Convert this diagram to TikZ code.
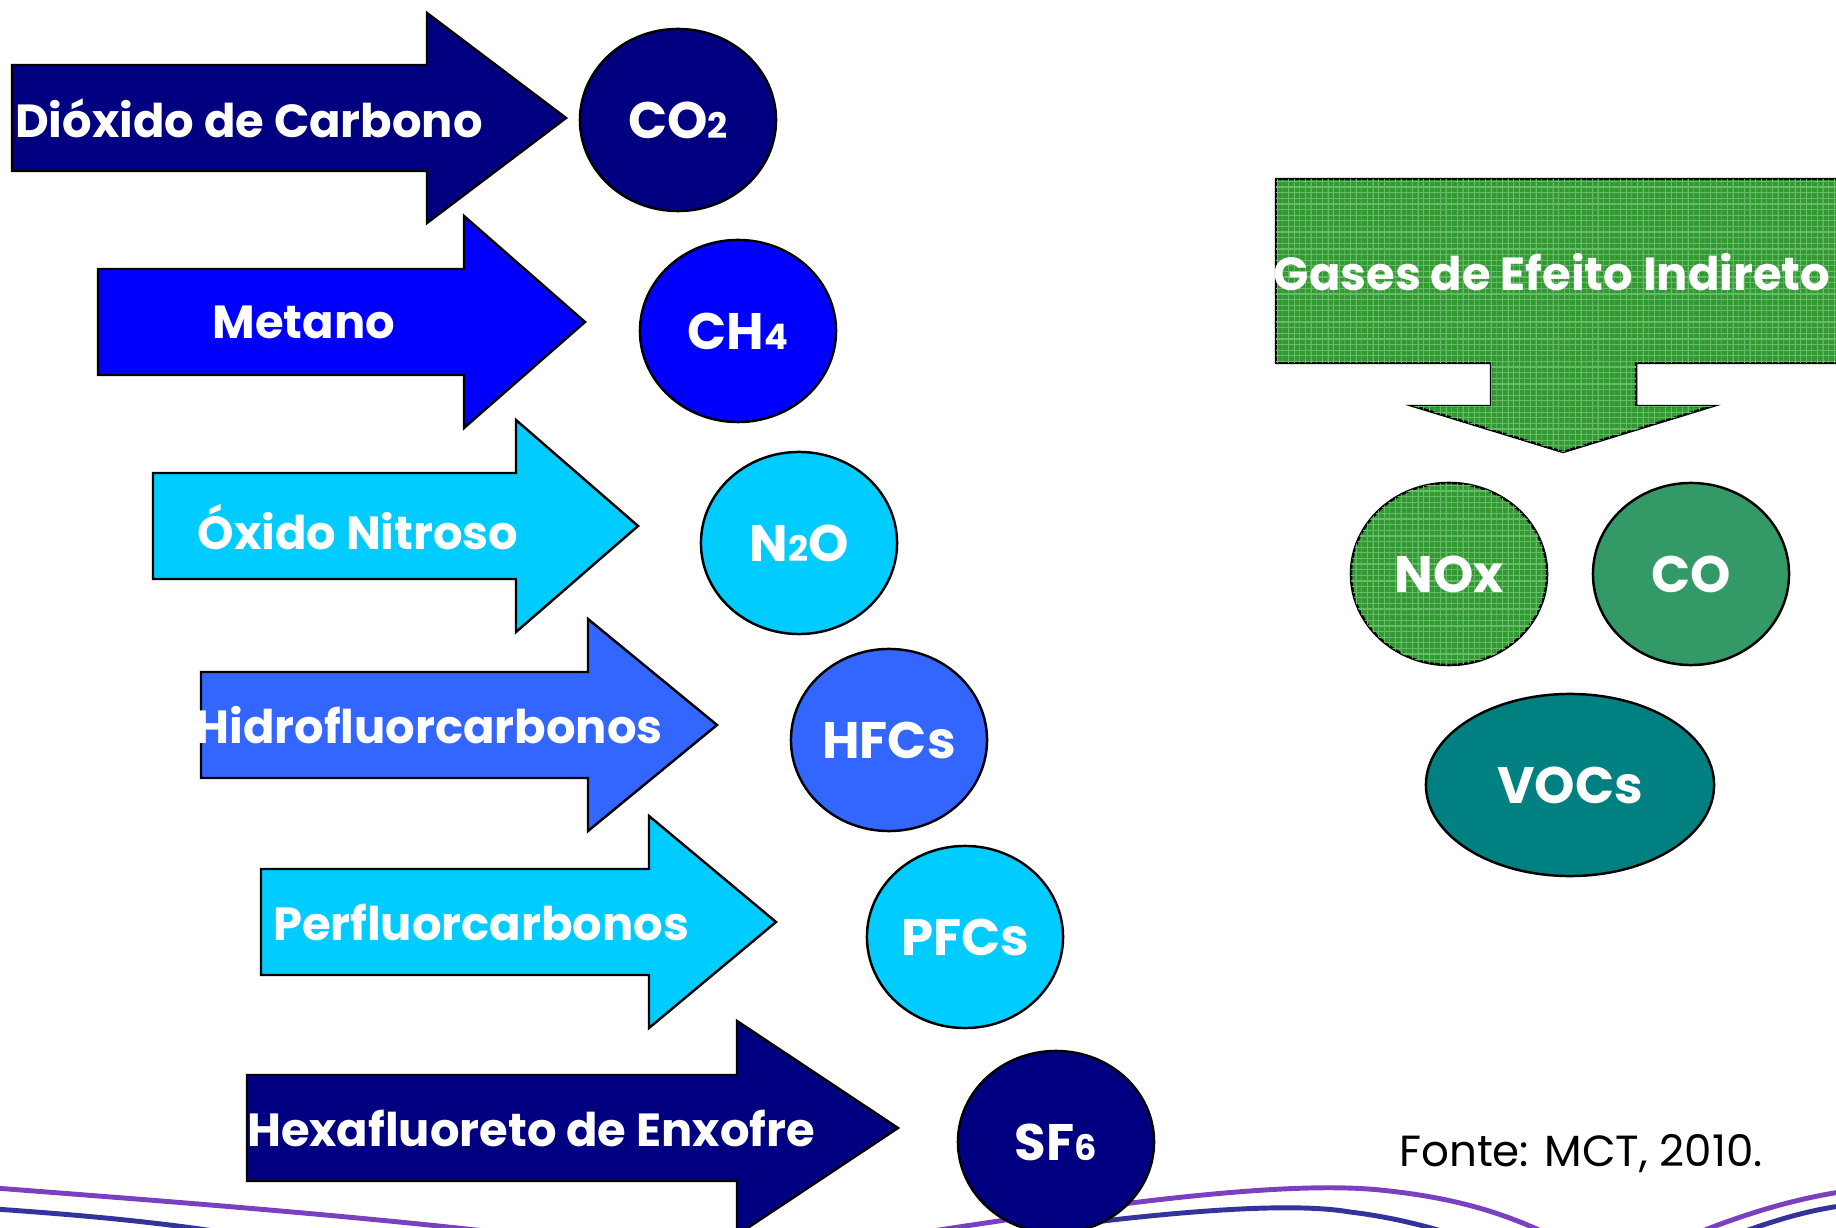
\documentclass[tikz,border=0pt]{standalone}
\usepackage{fontspec}
\setmainfont{Poppins}
\usetikzlibrary{shapes.geometric, patterns.meta}

\definecolor{navy}{HTML}{000080}
\definecolor{pureblue}{HTML}{0000FF}
\definecolor{skyblue}{HTML}{00CCFF}
\definecolor{midblue}{HTML}{3366FF}
\definecolor{leafgreen}{HTML}{339933}
\definecolor{meshgreen}{HTML}{66BB66}
\definecolor{seagreen}{HTML}{339966}
\definecolor{tealgas}{HTML}{008080}
\definecolor{wavepurple}{HTML}{7A40C0}
\definecolor{waveblue}{HTML}{333399}

\tikzdeclarepattern{
  name=mesh,
  type=uncolored,
  bottom left={(-.1pt,-.1pt)},
  top right={(1.7pt,1.7pt)},
  tile size={(1.6pt,1.6pt)},
  code={\draw[line width=.35pt] (0,0) -- (1.6pt,0) (0,0) -- (0,1.6pt);}
}

\newcommand{\gasfont}{\fontsize{14.6}{18}\selectfont\bfseries}
\newcommand{\arrowfont}{\fontsize{13.2}{16}\selectfont\bfseries}
\newcommand{\sub}[1]{{\fontsize{10}{10}\selectfont #1}}

% arrow body: fill, left x, centre y, head x, tip x, head half height
\newcommand{\gasarrow}[6]{%
  \filldraw[body, fill=#1] (#2,#3-53) -- (#4,#3-53) -- (#4,#3-#6) -- (#5,#3)
    -- (#4,#3+#6) -- (#4,#3+53) -- (#2,#3+53) -- cycle;}

\begin{document}
\begin{tikzpicture}[
x=0.01cm, y=-0.01cm,
body/.style={draw, line width=0.7pt, line join=miter},
gas/.style={draw, ellipse, line width=0.7pt, minimum width=1.96cm, minimum height=1.82cm, inner sep=0pt, text=white, font=\gasfont},
arrowtext/.style={text=white, font=\arrowfont, inner sep=0pt},
wave/.style={line width=1.4pt}
]
\useasboundingbox (0,0) rectangle (1836,1228);
\clip (0,0) rectangle (1836,1228);

% ---------- BOTTOM WAVES ----------

\draw[wave, wavepurple] (-5,1188) .. controls (150,1200) and (350,1215) .. (520,1235);
\draw[wave, waveblue] (-5,1209) .. controls (80,1215) and (160,1222) .. (240,1235);
\draw[wave, wavepurple] (900,1236) .. controls (1100,1205) and (1280,1180) .. (1380,1190)
  .. controls (1460,1198) and (1510,1215) .. (1560,1240);
\draw[wave, waveblue] (960,1240) .. controls (1130,1215) and (1280,1200) .. (1350,1212)
  .. controls (1400,1218) and (1440,1230) .. (1470,1240);
\draw[wave, wavepurple] (1680,1240) .. controls (1740,1215) and (1790,1200) .. (1840,1192);
\draw[wave, waveblue] (1720,1240) .. controls (1770,1222) and (1800,1212) .. (1840,1206);

% ---------- DIRECT GASES ----------

\gasarrow{navy}{12}{118}{427}{566}{105}
\gasarrow{pureblue}{98}{322}{464}{585}{106}
\gasarrow{skyblue}{153}{526}{516}{638}{106}
\gasarrow{midblue}{201}{725}{588}{717}{106}
\gasarrow{skyblue}{261}{922}{649}{776}{106}
\gasarrow{navy}{247}{1128}{737}{898}{107}

\node[arrowtext] (dioxido) at (249,118) {Dióxido de Carbono};
\node[arrowtext] (metano) at (304,322) {Metano};
\node[arrowtext] (oxido) at (358,527) {Óxido Nitroso};
\node[arrowtext] (hidro) at (429,725) {Hidrofluorcarbonos};
\node[arrowtext] (perfluor) at (481,922) {Perfluorcarbonos};
\node[arrowtext] (hexa) at (531,1128) {Hexafluoreto de Enxofre};

\node[gas, fill=navy] (co2) at (678,120) {CO\sub{2}};
\node[gas, fill=pureblue] (ch4) at (738,331) {CH\sub{4}};
\node[gas, fill=skyblue] (n2o) at (799,543) {N\sub{2}O};
\node[gas, fill=midblue] (hfcs) at (889,740) {HFCs};
\node[gas, fill=skyblue] (pfcs) at (965,937) {PFCs};
\node[gas, fill=navy] (sf6) at (1056,1142) {SF\sub{6}};

% ---------- INDIRECT GASES ----------

\filldraw[body, fill=leafgreen, postaction={pattern=mesh, pattern color=meshgreen}]
  (1276,179) -- (1850,179) -- (1850,363) -- (1636,363) -- (1636,406) -- (1713,406)
  -- (1563,452) -- (1413,406) -- (1491,406) -- (1491,363) -- (1276,363) -- cycle;
\node[arrowtext] (indireto) at (1552,272) {Gases de Efeito Indireto};

\node[gas, fill=leafgreen, postaction={pattern=mesh, pattern color=meshgreen}] (nox) at (1449,574) {NOx};
\node[gas, fill=seagreen] (co) at (1691,574) {CO};
\node[gas, fill=tealgas, minimum width=2.88cm] (vocs) at (1570,785) {VOCs};

% ---------- SOURCE ----------

\node[font=\fontsize{12.4}{15}\selectfont, inner sep=0pt] (fonte) at (1581,1154) {Fonte: MCT, 2010.};

\end{tikzpicture}
\end{document}
